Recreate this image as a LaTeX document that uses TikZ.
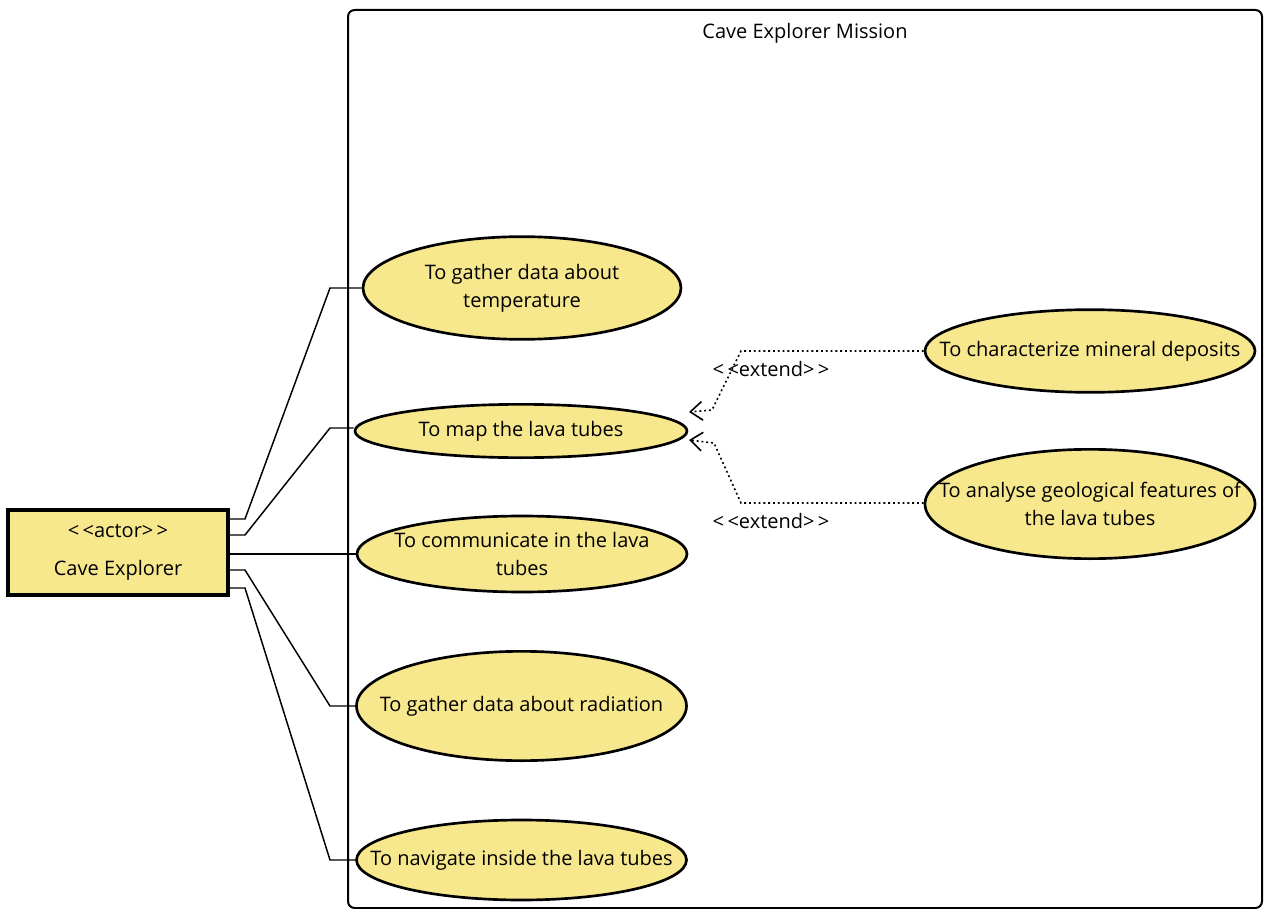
\documentclass[tikz,border=0pt]{standalone}
\usepackage{fontspec}
\setmainfont{Open Sans}
\usetikzlibrary{shapes.geometric,arrows.meta}

\definecolor{ucyellow}{RGB}{247,232,142}

\tikzset{every picture/.style={line width=0.75pt}}
\tikzset{
  usecase/.style={ellipse, draw, line width=2pt, fill=ucyellow, inner sep=0pt},
  casetext/.style={align=center, inner sep=0pt, font=\fontsize{15}{21}\selectfont},
  actorbox/.style={rectangle, draw, line width=2.4pt, fill=ucyellow, inner sep=0pt, align=center, font=\fontsize{15}{28.5}\selectfont},
  assoc/.style={line width=1.1pt},
  extendline/.style={dash pattern=on 1.4pt off 2.2pt, line width=1.2pt, -{Straight Barb[length=9pt,width=14pt,line width=1.2pt]}},
  stereo/.style={font=\fontsize{15}{17}\selectfont}
}

\begin{document}
\begin{tikzpicture}[x=0.75pt,y=0.75pt,yscale=-1,xscale=1]
\useasboundingbox (0,0) rectangle (1264,909);

%System boundary
\draw [line width=1.5pt, rounded corners=5] (348,10) rectangle (1262,908);
\node (title) at (805,33) {\fontsize{15}{17}\selectfont Cave Explorer Mission};

%Actor
\node (actor) [actorbox, minimum width=165pt, minimum height=63.75pt] at (118,552.5) {<\,<actor>\,>\\Cave Explorer};

%Use cases
\node (temp) [usecase, minimum width=238.5pt, minimum height=77pt, label={[casetext]center:To gather data about\\temperature}] at (522,288) {};
\node (map) [usecase, minimum width=249pt, minimum height=40pt, label={[casetext]center:To map the lava tubes}] at (521,431) {};
\node (comm) [usecase, minimum width=247.5pt, minimum height=57pt, label={[casetext]center:To communicate in the lava\\tubes}] at (522,554) {};
\node (rad) [usecase, minimum width=247.5pt, minimum height=82pt, label={[casetext]center:To gather data about radiation}] at (521.5,706) {};
\node (nav) [usecase, minimum width=247.5pt, minimum height=60pt, label={[casetext]center:To navigate inside the lava tubes}] at (521.5,860) {};
\node (mineral) [usecase, minimum width=247.5pt, minimum height=62pt, label={[casetext]center:To characterize mineral deposits}] at (1090,351) {};
\node (geo) [usecase, minimum width=247.5pt, minimum height=82pt, label={[casetext]center:To analyse geological features of\\the lava tubes}] at (1090,504) {};

%Associations
\coordinate (k1) at (245,519);
\coordinate (k2) at (245,535);
\coordinate (k4) at (245,570);
\coordinate (k5) at (245,588);
\draw [assoc] (actor.east |- k1) -- (k1) -- (330,288) -- (temp.west);
\draw [assoc] (actor.east |- k2) -- (k2) -- (330,428) -- (map.west |- 0,428);
\draw [assoc] (actor.east |- comm.west) -- (comm.west);
\draw [assoc] (actor.east |- k4) -- (k4) -- (330,706) -- (rad.west);
\draw [assoc] (actor.east |- k5) -- (k5) -- (330,860) -- (nav.west);

%Extends
\coordinate (e1) at (741,351);
\coordinate (e2) at (741,503);
\coordinate (m1) at (689,412);
\coordinate (m2) at (689,440);
\draw [extendline] (mineral.west) -- (e1) -- (712,410) -- (m1);
\draw [extendline] (geo.west |- e2) -- (e2) -- (714,443) -- (m2);
\node (x1) [stereo] at (771,369) {<\,<extend>\,>};
\node (x2) [stereo] at (771,521) {<\,<extend>\,>};

\end{tikzpicture}
\end{document}
